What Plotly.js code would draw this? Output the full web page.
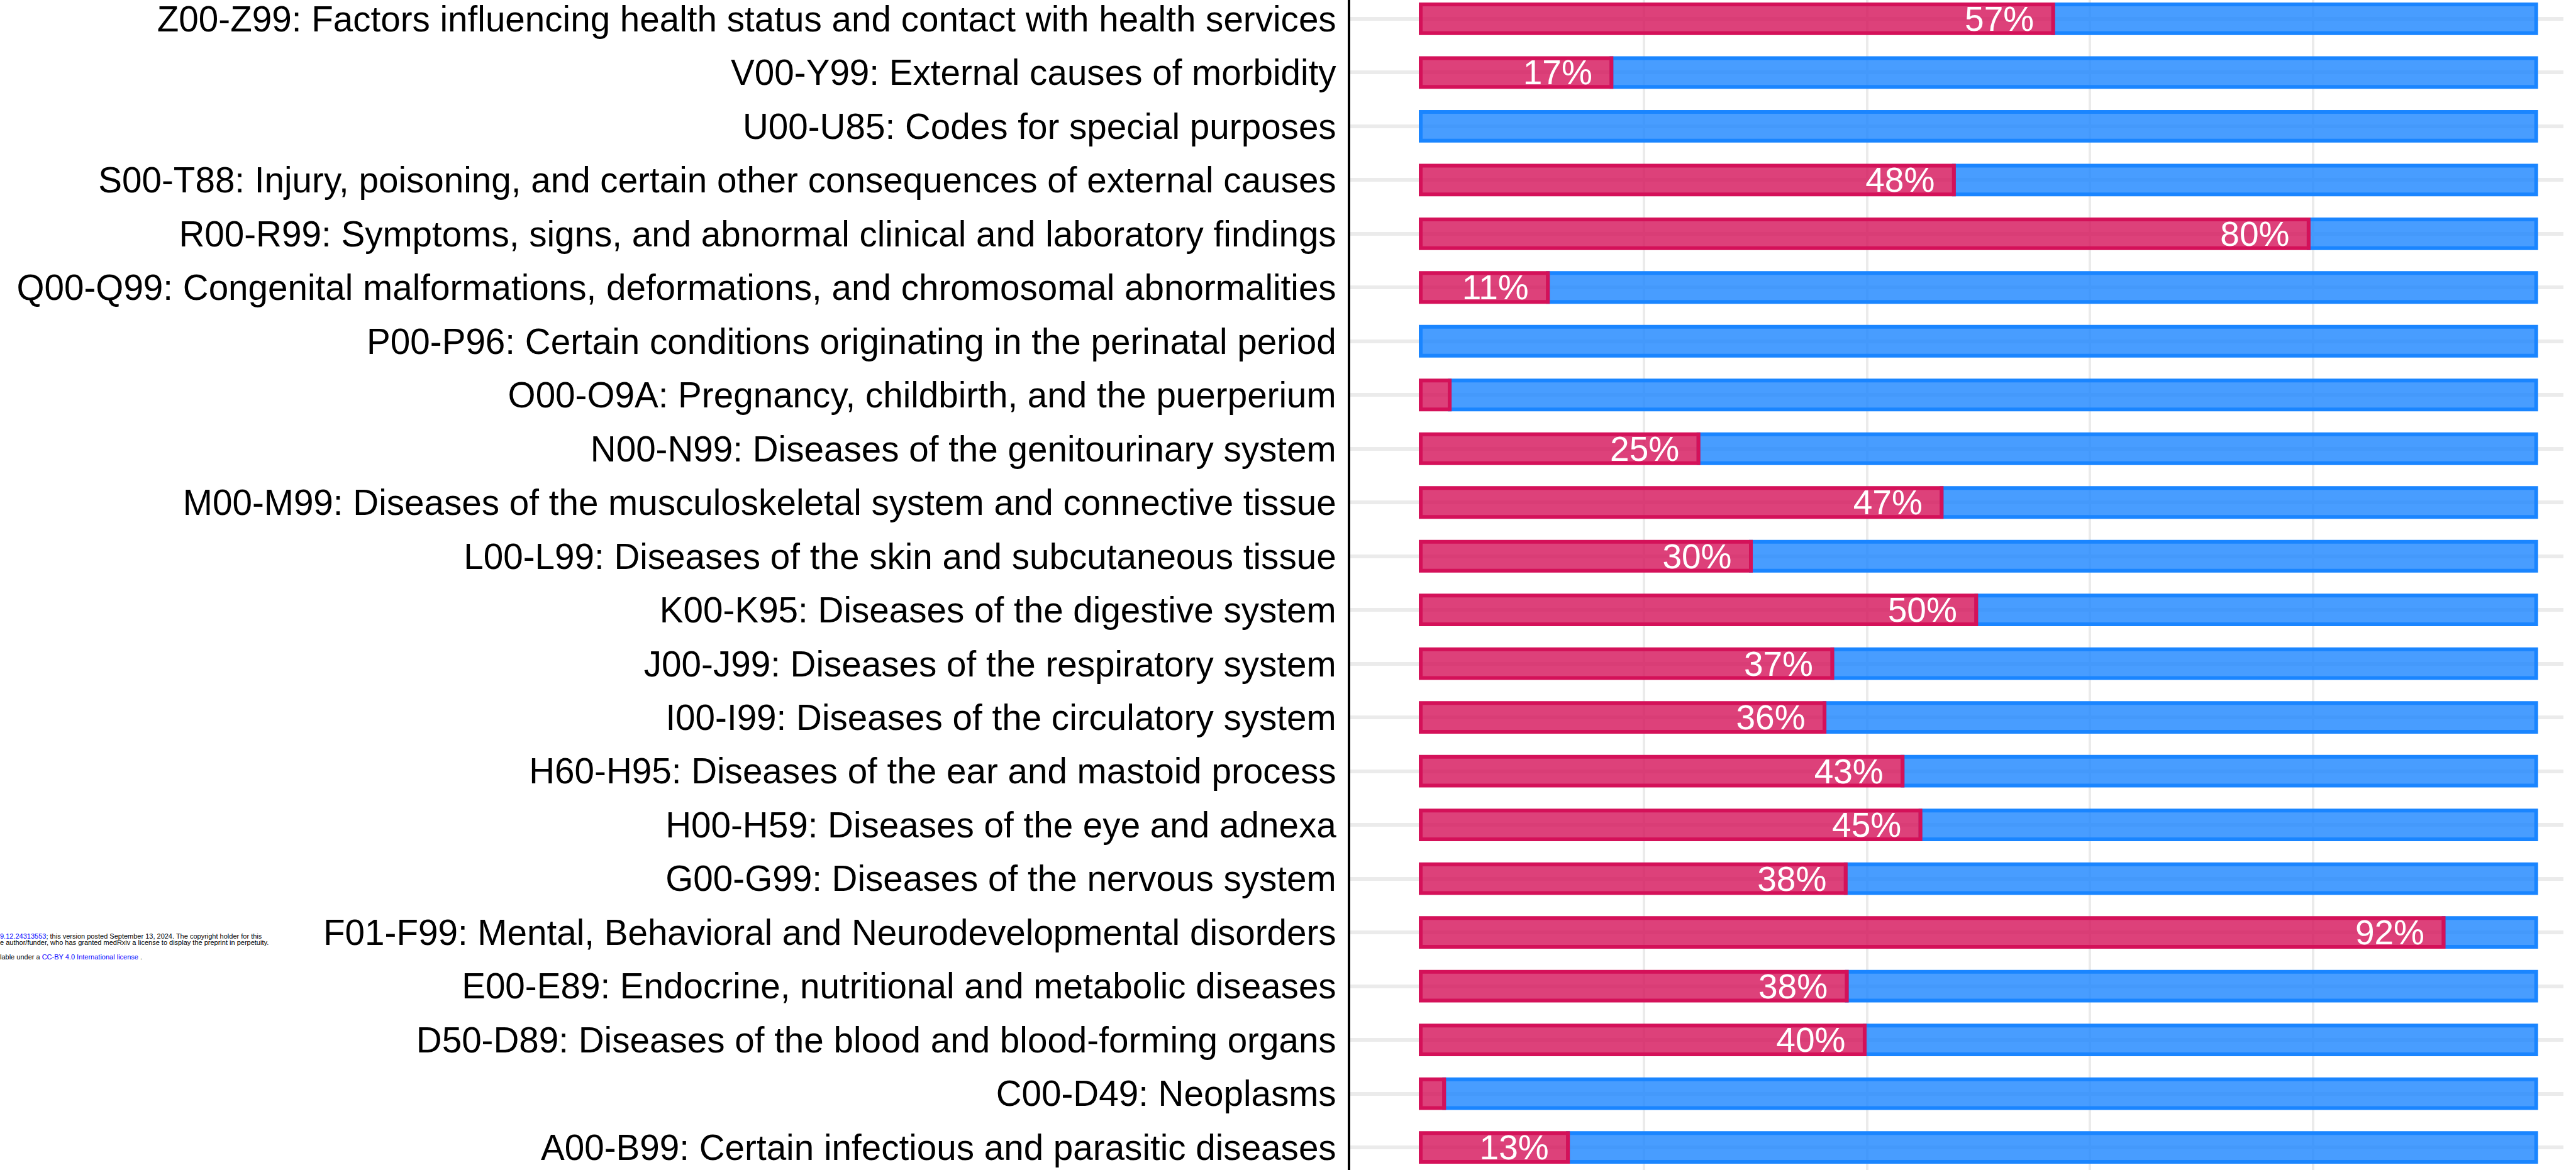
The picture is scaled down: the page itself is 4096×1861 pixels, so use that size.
<!DOCTYPE html>
<html>
<head>
<meta charset="utf-8">
<script src="https://cdn.plot.ly/plotly-3.0.1.min.js"></script>
<style>
  html, body { margin: 0; padding: 0; background: #ffffff; }
  #chart { width: 4096px; height: 1861px; }
</style>
</head>
<body>
<div id="chart"></div>
<script>
// ---- data (bottom to top) ----
const categories = [
  "A00-B99: Certain infectious and parasitic diseases",
  "C00-D49: Neoplasms",
  "D50-D89: Diseases of the blood and blood-forming organs",
  "E00-E89: Endocrine, nutritional and metabolic diseases",
  "F01-F99: Mental, Behavioral and Neurodevelopmental disorders",
  "G00-G99: Diseases of the nervous system",
  "H00-H59: Diseases of the eye and adnexa",
  "H60-H95: Diseases of the ear and mastoid process",
  "I00-I99: Diseases of the circulatory system",
  "J00-J99: Diseases of the respiratory system",
  "K00-K95: Diseases of the digestive system",
  "L00-L99: Diseases of the skin and subcutaneous tissue",
  "M00-M99: Diseases of the musculoskeletal system and connective tissue",
  "N00-N99: Diseases of the genitourinary system",
  "O00-O9A: Pregnancy, childbirth, and the puerperium",
  "P00-P96: Certain conditions originating in the perinatal period",
  "Q00-Q99: Congenital malformations, deformations, and chromosomal abnormalities",
  "R00-R99: Symptoms, signs, and abnormal clinical and laboratory findings",
  "S00-T88: Injury, poisoning, and certain other consequences of external causes",
  "U00-U85: Codes for special purposes",
  "V00-Y99: External causes of morbidity",
  "Z00-Z99: Factors influencing health status and contact with health services"
];
const pinkPct = [13.2, 2.1, 39.8, 38.2, 91.7, 38.1, 44.8, 43.2, 36.2, 36.9, 49.8, 29.6, 46.7, 24.9, 2.6, 0, 11.4, 79.6, 47.8, 0, 17.1, 56.7];
const bluePct = [86.8, 97.9, 60.2, 61.8, 8.3, 61.9, 55.2, 56.8, 63.8, 63.1, 50.2, 70.4, 53.3, 75.1, 97.4, 100, 88.6, 20.4, 52.2, 100, 82.9, 43.3];
const xGridVals = [20, 40, 60, 80];
const LABEL_MIN = 10; // percentages below this are too short to carry a label

const watermark1 = '<span style="color:#0000ff">9.12.24313553</span>; this version posted September 13, 2024. The copyright holder for this';
const watermark2 = 'e author/funder, who has granted medRxiv a license to display the preprint in perpetuity.';
const watermark3 = 'lable under a <span style="color:#0000ff">CC-BY 4.0 International license</span> .';

// ---- styling ----
const FONT = '"Liberation Sans", Arial, Helvetica, sans-serif';
const PINK = '#D41159', PINK_FILL = 'rgba(212,17,89,0.8)';
const BLUE = '#1A85FF', BLUE_FILL = 'rgba(26,133,255,0.8)';
const BARW = 0.536, LW = 6;

const traceBlue = {
  type: 'bar', orientation: 'h',
  y: categories, x: bluePct, base: pinkPct,
  width: BARW,
  marker: { color: BLUE_FILL, line: { color: BLUE, width: LW } },
  hoverinfo: 'skip', showlegend: false
};
const tracePink = {
  type: 'bar', orientation: 'h',
  y: categories, x: pinkPct,
  width: BARW,
  marker: { color: PINK_FILL, line: { color: PINK, width: pinkPct.map(v => v > 0 ? LW : 0) } },
  text: pinkPct.map(v => v >= LABEL_MIN ? Math.round(v) + '%\u2002' : ''),
  textposition: 'inside', insidetextanchor: 'end', textangle: 0,
  textfont: { family: FONT, size: 55, color: '#ffffff' },
  constraintext: 'none',
  hoverinfo: 'skip', showlegend: false
};

const wmFont = { family: FONT, size: 11, color: '#000000' };
const layout = {
  width: 4096, height: 1861,
  margin: { l: 2147, r: 20, t: 0, b: 0, pad: 0 },
  paper_bgcolor: '#ffffff', plot_bgcolor: '#ffffff',
  barmode: 'overlay',
  font: { family: FONT, color: '#000000' },
  xaxis: {
    range: [-6.316, 102.44],
    tickmode: 'array', tickvals: xGridVals,
    showticklabels: false, ticks: '',
    showgrid: true, gridcolor: '#EBEBEB', gridwidth: 4,
    zeroline: false, showline: false, fixedrange: true
  },
  yaxis: {
    type: 'category',
    categoryorder: 'array', categoryarray: categories,
    range: [-0.42, 21.349],
    tickmode: 'array', tickvals: categories,
    ticks: '', ticklabelstandoff: 7,
    tickfont: { family: FONT, size: 56.6, color: '#000000' },
    showgrid: true, gridcolor: '#EBEBEB', gridwidth: 6,
    showline: true, linecolor: '#000000', linewidth: 4,
    zeroline: false, fixedrange: true
  },
  shapes: [{
    type: 'rect', xref: 'paper', yref: 'paper', layer: 'between',
    x0: 0.0271, x1: 0.0415, y0: 0, y1: 1,
    fillcolor: '#ffffff', line: { width: 0 }
  }],
  annotations: [
    { text: watermark1, xref: 'paper', yref: 'paper', x: -1.1133, y: 0.1999, xanchor: 'left', yanchor: 'middle', showarrow: false, font: wmFont, borderpad: 0 },
    { text: watermark2, xref: 'paper', yref: 'paper', x: -1.1133, y: 0.1947, xanchor: 'left', yanchor: 'middle', showarrow: false, font: wmFont, borderpad: 0 },
    { text: watermark3, xref: 'paper', yref: 'paper', x: -1.1133, y: 0.1824, xanchor: 'left', yanchor: 'middle', showarrow: false, font: wmFont, borderpad: 0 }
  ]
};

Plotly.newPlot('chart', [traceBlue, tracePink], layout, { displayModeBar: false, staticPlot: true });
</script>
</body>
</html>
